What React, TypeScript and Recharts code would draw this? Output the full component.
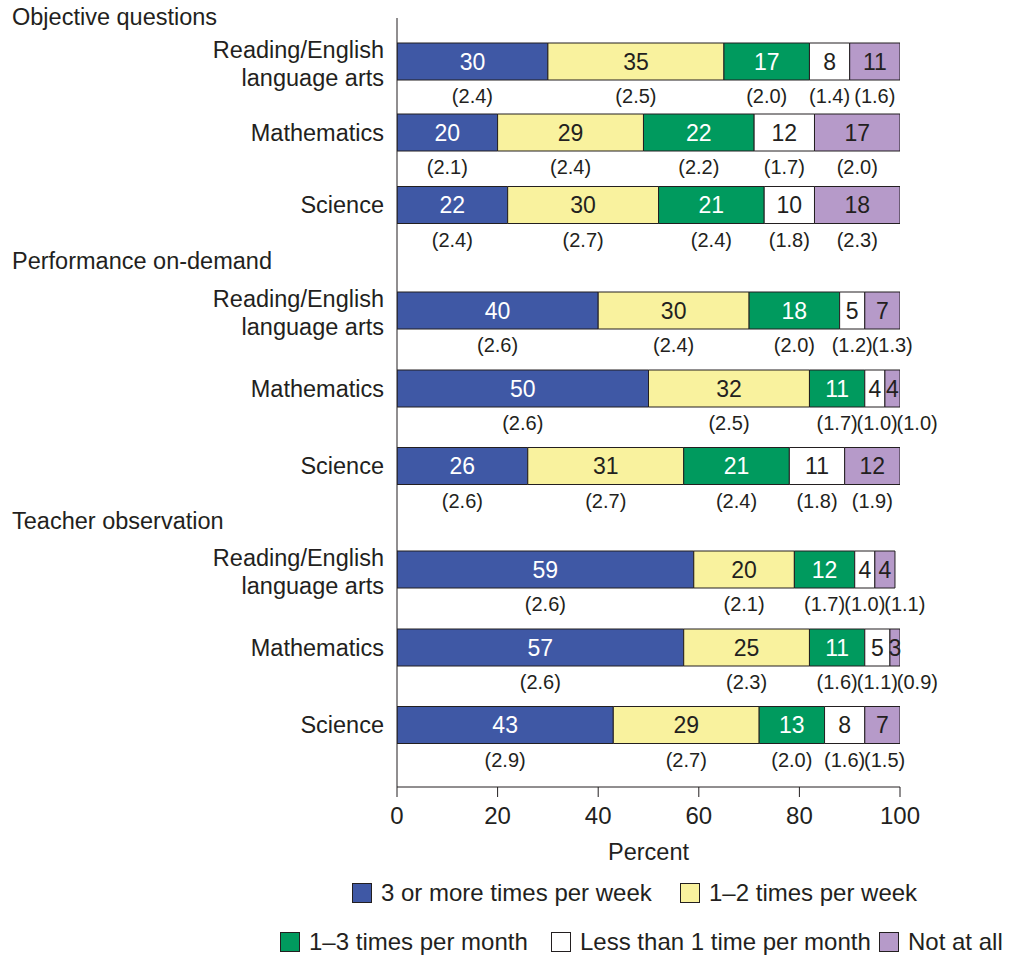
import React from "react";
import { BarChart, Bar, XAxis, YAxis, LabelList } from "recharts";

// groups and row labels
const GROUPS = ["Objective questions", "Performance on-demand", "Teacher observation"];
const SUBJECTS = [["Reading/English", "language arts"], ["Mathematics"], ["Science"]];
const SERIES = [
  "3 or more times per week",
  "1–2 times per week",
  "1–3 times per month",
  "Less than 1 time per month",
  "Not at all",
];

// percent, rows in order: group x subject
const THREE_PLUS_WEEK = [30, 20, 22, 40, 50, 26, 59, 57, 43];
const ONE_TWO_WEEK = [35, 29, 30, 30, 32, 31, 20, 25, 29];
const ONE_THREE_MONTH = [17, 22, 21, 18, 11, 21, 12, 11, 13];
const LESS_ONE_MONTH = [8, 12, 10, 5, 4, 11, 4, 5, 8];
const NOT_AT_ALL = [11, 17, 18, 7, 4, 12, 4, 3, 7];

// standard errors
const SE_THREE_PLUS_WEEK = ["2.4", "2.1", "2.4", "2.6", "2.6", "2.6", "2.6", "2.6", "2.9"];
const SE_ONE_TWO_WEEK = ["2.5", "2.4", "2.7", "2.4", "2.5", "2.7", "2.1", "2.3", "2.7"];
const SE_ONE_THREE_MONTH = ["2.0", "2.2", "2.4", "2.0", "1.7", "2.4", "1.7", "1.6", "2.0"];
const SE_LESS_ONE_MONTH = ["1.4", "1.7", "1.8", "1.2", "1.0", "1.8", "1.0", "1.1", "1.6"];
const SE_NOT_AT_ALL = ["1.6", "2.0", "2.3", "1.3", "1.0", "1.9", "1.1", "0.9", "1.5"];

const X_TICKS = [0, 20, 40, 60, 80, 100];

// layout: y axis runs in px from the top of the plot
const HEADER_POS = [0, 244, 504];
const ROW_POS = [43.5, 114.5, 187, 292.5, 370.5, 448, 551.5, 629.5, 707];

const COLORS = ["#3F58A5", "#F9F29E", "#009A5E", "#FFFFFF", "#B69AC9"];
const LABEL_COLORS = ["#FFFFFF", "#231F20", "#FFFFFF", "#231F20", "#231F20"];
const INK = "#231F20";
const FONT = '"Liberation Sans", Arial, Helvetica, sans-serif';
const SE_WIDTH = 40; // px taken by one "(x.x)" label

const values = [THREE_PLUS_WEEK, ONE_TWO_WEEK, ONE_THREE_MONTH, LESS_ONE_MONTH, NOT_AT_ALL];
const errors = [SE_THREE_PLUS_WEEK, SE_ONE_TWO_WEEK, SE_ONE_THREE_MONTH, SE_LESS_ONE_MONTH, SE_NOT_AT_ALL];

const data = ROW_POS.map((pos, i) => {
  const row: Record<string, number | string> = { pos };
  values.forEach((arr, s) => {
    row[`s${s}`] = arr[i];
    row[`e${s}`] = errors[s][i];
  });
  return row;
});

const yTicks = [...HEADER_POS, ...ROW_POS].sort((a, b) => a - b);

// visible start/end of every segment of a row, in percent (bars are cut at 100)
const segments = (i: number) => {
  let cum = 0;
  return values.map((arr) => {
    const start = Math.min(cum, 100);
    cum += arr[i];
    return { start, end: Math.min(cum, 100) };
  });
};

// pixel centre of every segment of row i, from one rendered rect of series s
const rowCenters = (i: number, s: number, x: number, width: number) => {
  const segs = segments(i);
  const ppu = width / (segs[s].end - segs[s].start);
  const x0 = x - segs[s].start * ppu;
  return segs.map((g) => x0 + ((g.start + g.end) / 2) * ppu);
};

const YTick = (props: any) => {
  const { y, payload } = props;
  const v = payload.value;
  const h = HEADER_POS.indexOf(v);
  if (h >= 0) {
    return (
      <text x={12} y={y - 1} textAnchor="start" dominantBaseline="central" fontSize={23.5} fill={INK} fontFamily={FONT}>
        {GROUPS[h]}
      </text>
    );
  }
  const r = ROW_POS.indexOf(v);
  if (r < 0) return null;
  const lines = SUBJECTS[r % 3];
  if (lines.length === 1) {
    return (
      <text x={384} y={y} textAnchor="end" dominantBaseline="central" fontSize={23.5} fill={INK} fontFamily={FONT}>
        {lines[0]}
      </text>
    );
  }
  return (
    <text x={384} textAnchor="end" dominantBaseline="central" fontSize={23.5} fill={INK} fontFamily={FONT}>
      <tspan x={384} y={y - 12}>{lines[0]}</tspan>
      <tspan x={384} y={y + 16}>{lines[1]}</tspan>
    </text>
  );
};

const ValueLabel = (props: any) => {
  const { x, y, width, height, value, index, s } = props;
  const cx = rowCenters(index, s, Number(x), Number(width))[s];
  return (
    <text
      x={cx}
      y={Number(y) + Number(height) / 2}
      textAnchor="middle"
      dominantBaseline="central"
      fontSize={23}
      fill={LABEL_COLORS[s]}
      fontFamily={FONT}
    >
      {value}
    </text>
  );
};

const SeLabel = (props: any) => {
  const { x, y, width, height, value, index, s } = props;
  // push labels right when they would run into the previous one
  const centers = rowCenters(index, s, Number(x), Number(width));
  for (let k = 1; k < centers.length; k++) {
    centers[k] = Math.max(centers[k], centers[k - 1] + SE_WIDTH);
  }
  return (
    <text
      x={centers[s]}
      y={Number(y) + Number(height) + 16}
      textAnchor="middle"
      dominantBaseline="central"
      fontSize={20}
      fill={INK}
      fontFamily={FONT}
    >
      ({value})
    </text>
  );
};

const PercentLabel = (props: any) => {
  const { viewBox } = props;
  return (
    <text
      x={viewBox.x + viewBox.width / 2}
      y={viewBox.y + 65}
      textAnchor="middle"
      dominantBaseline="central"
      fontSize={23.5}
      fill={INK}
      fontFamily={FONT}
    >
      Percent
    </text>
  );
};

// legend rows: series index and left edge of swatch
const LEGEND_ROWS = [
  { top: 883, items: [[0, 352], [1, 680]] },
  { top: 932, items: [[2, 280], [3, 551], [4, 879]] },
];

export default function App() {
  return (
    <div style={{ position: "relative", width: 1021, height: 956, fontFamily: FONT, background: "#fff" }}>
      <style>{`body{margin:0}`}</style>
      <BarChart
        width={1021}
        height={956}
        data={data}
        layout="vertical"
        margin={{ top: 18, right: 121, bottom: 109, left: 0 }}
      >
        <XAxis
          type="number"
          domain={[0, 100]}
          allowDataOverflow
          ticks={X_TICKS}
          height={60}
          tickSize={10}
          tickMargin={10}
          axisLine={{ stroke: INK }}
          tickLine={{ stroke: INK }}
          tick={{ fill: INK, fontSize: 24, fontFamily: FONT }}
          label={<PercentLabel />}
        />
        <YAxis
          type="number"
          dataKey="pos"
          domain={[0, 769]}
          allowDataOverflow
          ticks={yTicks}
          interval={0}
          width={397}
          tickLine={false}
          axisLine={{ stroke: INK }}
          tick={<YTick />}
        />
        {SERIES.map((name, s) => (
          <Bar
            key={name}
            name={name}
            dataKey={`s${s}`}
            stackId="a"
            fill={COLORS[s]}
            stroke={INK}
            strokeWidth={1}
            barSize={37}
            isAnimationActive={false}
          >
            <LabelList dataKey={`s${s}`} content={(p: any) => <ValueLabel {...p} s={s} />} />
            <LabelList dataKey={`e${s}`} content={(p: any) => <SeLabel {...p} s={s} />} />
          </Bar>
        ))}
      </BarChart>
      {LEGEND_ROWS.map((row, ri) =>
        row.items.map(([s, left]) => (
          <div
            key={`${ri}-${s}`}
            style={{
              position: "absolute",
              top: row.top,
              left,
              height: 20,
              display: "flex",
              alignItems: "center",
              whiteSpace: "nowrap",
              fontSize: 24,
              color: INK,
            }}
          >
            <span
              style={{
                display: "inline-block",
                width: 18,
                height: 18,
                background: COLORS[s],
                border: `1px solid ${INK}`,
                marginRight: 9,
              }}
            />
            <span>{SERIES[s]}</span>
          </div>
        ))
      )}
    </div>
  );
}
